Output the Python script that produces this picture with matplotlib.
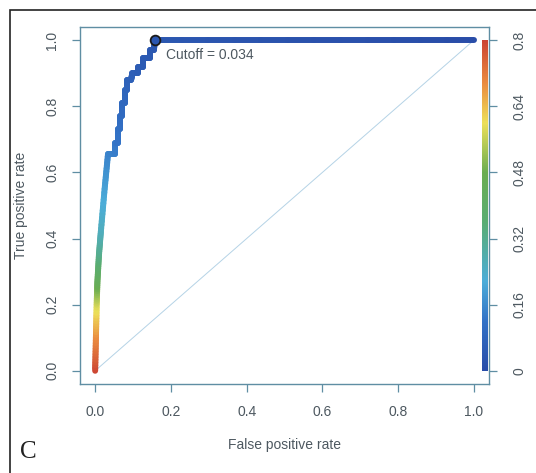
import numpy as np
import matplotlib
matplotlib.use("Agg")
import matplotlib.pyplot as plt
from matplotlib.collections import LineCollection
from matplotlib.colors import LinearSegmentedColormap
from matplotlib.patches import Rectangle

# ROC curve values
fpr = [0.0, 0.002, 0.004, 0.006, 0.010, 0.015, 0.025, 0.034, 0.053, 0.053, 0.060, 0.060,
       0.066, 0.066, 0.072, 0.072, 0.078, 0.078, 0.085, 0.085, 0.095, 0.098, 0.113, 0.113,
       0.127, 0.127, 0.145, 0.145, 0.155, 0.158, 1.0]
tpr = [0.0, 0.10, 0.20, 0.27, 0.35, 0.42, 0.55, 0.656, 0.656, 0.69, 0.69, 0.73,
       0.73, 0.77, 0.77, 0.81, 0.81, 0.85, 0.85, 0.88, 0.88, 0.90, 0.90, 0.92,
       0.92, 0.945, 0.945, 0.97, 0.97, 1.0, 1.0]
cutoff = [0.80, 0.70, 0.58, 0.45, 0.33, 0.26, 0.20, 0.15, 0.14, 0.13, 0.12, 0.115,
          0.11, 0.10, 0.095, 0.09, 0.085, 0.08, 0.075, 0.07, 0.065, 0.06, 0.055, 0.05,
          0.047, 0.044, 0.041, 0.038, 0.036, 0.034, 0.0]
opt_fpr, opt_tpr, opt_cut = 0.158, 1.0, 0.034
x_ticks = [0.0, 0.2, 0.4, 0.6, 0.8, 1.0]
y_ticks = [0.0, 0.2, 0.4, 0.6, 0.8, 1.0]
cb_ticks = [0, 0.16, 0.32, 0.48, 0.64, 0.8]
cb_labels = ["0", "0.16", "0.32", "0.48", "0.64", "0.8"]

plt.rcParams['font.family'] = ['Liberation Sans', 'DejaVu Sans']
txt = '#4d5860'
axc = '#5f8ea3'
fs = 10

cmap = LinearSegmentedColormap.from_list('rb', [
    (0.00, (0.16, 0.30, 0.66)),
    (0.15, (0.20, 0.45, 0.78)),
    (0.27, (0.30, 0.68, 0.85)),
    (0.45, (0.35, 0.68, 0.45)),
    (0.60, (0.42, 0.68, 0.32)),
    (0.75, (0.93, 0.88, 0.35)),
    (0.87, (0.92, 0.55, 0.25)),
    (1.00, (0.80, 0.27, 0.20)),
])
vmin, vmax = 0.0, 0.8

fig = plt.figure(figsize=(5.36, 4.73), dpi=100)
fig.add_artist(Rectangle((10/536, -0.1), 1.2, (473-10)/473 + 0.1, transform=fig.transFigure,
                         fill=False, edgecolor='#222222', lw=1.2))
ax = fig.add_axes([80/536, 89/473, 409/536, 357/473])
ax.set_xlim(-0.04, 1.04)
ax.set_ylim(-0.04, 1.04)

# diagonal
ax.plot([0, 1], [0, 1], color='#b5d3e6', lw=0.7, zorder=1)

# colorized curve
x = np.array(fpr); y = np.array(tpr); c = np.array(cutoff)
fine_segs, fine_c = [], []
for i in range(len(x) - 1):
    n = 12
    for k in range(n):
        t0, t1 = k / n, (k + 1) / n
        p0 = (x[i] + (x[i+1]-x[i])*t0, y[i] + (y[i+1]-y[i])*t0)
        p1 = (x[i] + (x[i+1]-x[i])*t1, y[i] + (y[i+1]-y[i])*t1)
        fine_segs.append([p0, p1])
        fine_c.append(c[i] + (c[i+1]-c[i])*(t0+t1)/2)
lc = LineCollection(fine_segs, cmap=cmap, norm=plt.Normalize(vmin, vmax), lw=4.3,
                    capstyle='round', joinstyle='round', zorder=3)
lc.set_array(np.array(fine_c))
ax.add_collection(lc)

# optimal point
ax.plot([opt_fpr], [opt_tpr], 'o', ms=7, mfc=cmap(opt_cut/vmax), mec='#1a1a1a', mew=1.3, zorder=4)
ax.text(opt_fpr + 0.03, opt_tpr - 0.045, f"Cutoff = {opt_cut}", fontsize=fs, color=txt,
        ha='left', va='center')

# colour bar inside plot at right
grad = np.linspace(vmin, vmax, 256).reshape(-1, 1)
ax.imshow(grad, cmap=cmap, aspect='auto', origin='lower', extent=[1.022, 1.036, 0, 1],
          zorder=2, interpolation='bilinear')
ax.set_xlim(-0.04, 1.04)
ax.set_ylim(-0.04, 1.04)

for s in ax.spines.values():
    s.set_color(axc)
    s.set_linewidth(1.0)
ax.set_xticks(x_ticks)
ax.set_xticklabels([f"{v:.1f}" for v in x_ticks])
ax.set_yticks(y_ticks)
ax.set_yticklabels([f"{v:.1f}" for v in y_ticks], rotation=90, va='center')
ax.tick_params(axis='both', colors=axc, labelcolor=txt, labelsize=fs, length=6, width=0.9, pad=9)

ax2 = ax.twinx()
ax2.set_ylim(-0.04 * 0.8, 1.04 * 0.8)
ax2.set_yticks(cb_ticks)
ax2.set_yticklabels(cb_labels, rotation=90, va='center')
ax2.tick_params(axis='y', colors=axc, labelcolor=txt, labelsize=fs, length=6, width=0.9, pad=11)
for s in ax2.spines.values():
    s.set_visible(False)

ax.set_xlabel("False positive rate", fontsize=fs, color=txt, labelpad=14)
ax.set_ylabel("True positive rate", fontsize=fs, color=txt, labelpad=12)

fig.text(20/536, 1 - 458/473, "C", fontsize=18, family='Liberation Serif', color='#222222',
         ha='left', va='baseline')

fig.savefig("out.png", dpi=100)
